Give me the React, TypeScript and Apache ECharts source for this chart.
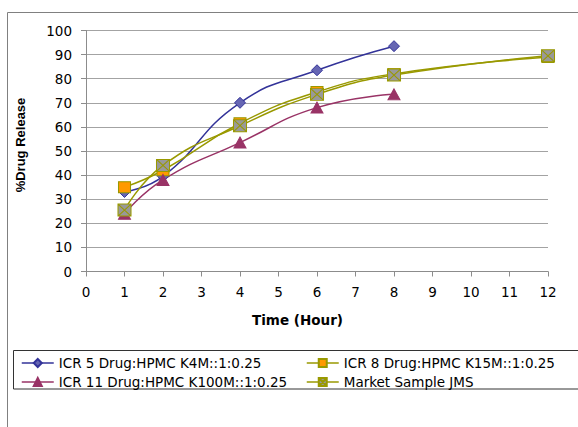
import React, { useEffect, useRef } from "react";
import * as echarts from "echarts";

// Time points (hours)
const hoursShort = [1, 2, 4, 6, 8];
const hoursLong = [1, 2, 4, 6, 8, 12];

// Series names
const seriesNames = [
  "ICR 5 Drug:HPMC K4M::1:0.25",
  "ICR 8 Drug:HPMC K15M::1:0.25",
  "ICR 11 Drug:HPMC K100M::1:0.25",
  "Market Sample JMS",
];

// % drug release values
const icr5 = [33, 39.5, 70, 83.5, 93.5];
const icr8 = [35, 42, 61.5, 74.5, 82, 89];
const icr11 = [24, 38, 53.5, 68, 73.5];
const market = [25.5, 44, 60.5, 73.5, 81.5, 89.5];

const xTitle = "Time (Hour)";
const yTitle = "%Drug Release";

const FONT = "DejaVu Sans";

const pairs = (xs: number[], ys: number[]) => xs.map((x, i) => [x, ys[i]]);

export default function App() {
  const ref = useRef<HTMLDivElement>(null);

  useEffect(() => {
    if (!ref.current) return;
    const chart = echarts.init(ref.current, undefined, { renderer: "svg" });
    const legendCommon = {
      orient: "vertical" as const,
      top: 356,
      itemWidth: 32,
      itemHeight: 10,
      itemGap: 5,
      padding: 0,
      symbolSize: 9,
      selectedMode: false,
      lineStyle: { width: 1.5 },
      textStyle: { fontFamily: FONT, fontSize: 13.5, color: "#000", lineHeight: 14 },
    };
    chart.setOption({
      animation: false,
      backgroundColor: "#fff",
      grid: { left: 86, right: 30, top: 30.5, bottom: 155.5, containLabel: false },
      xAxis: {
        type: "value",
        min: 0,
        max: 12,
        interval: 1,
        axisLine: { show: true, lineStyle: { color: "#8c8c8c", width: 1 } },
        axisTick: { show: true, inside: false, length: 5, lineStyle: { color: "#8c8c8c" } },
        axisLabel: { fontFamily: FONT, fontSize: 13.5, color: "#000", margin: 13 },
        splitLine: { show: false },
      },
      yAxis: {
        type: "value",
        min: 0,
        max: 100,
        interval: 10,
        axisLine: { show: true, lineStyle: { color: "#8c8c8c", width: 1 } },
        axisTick: { show: true, inside: false, length: 5, lineStyle: { color: "#8c8c8c" } },
        axisLabel: { fontFamily: FONT, fontSize: 13.5, color: "#000", margin: 14 },
        splitLine: { show: true, lineStyle: { color: "#a3a3a3", width: 1 } },
      },
      legend: [
        { ...legendCommon, left: 21, data: [seriesNames[0], seriesNames[2]] },
        { ...legendCommon, left: 306, data: [seriesNames[1], seriesNames[3]] },
      ],
      graphic: [
        {
          type: "rect",
          z: -1,
          shape: { x: 7.5, y: 12.5, width: 700, height: 600 },
          style: { fill: "none", stroke: "#808080", lineWidth: 1 },
        },
        {
          type: "rect",
          z: -1,
          shape: { x: 13.5, y: 350.5, width: 700, height: 38.5 },
          style: { fill: "none", stroke: "#333", lineWidth: 1 },
        },
        {
          type: "text",
          x: 20,
          y: 145,
          rotation: Math.PI / 2,
          style: {
            text: yTitle,
            font: "bold 13px 'Liberation Sans'",
            fill: "#000",
            align: "center",
            verticalAlign: "middle",
          },
        },
        {
          type: "text",
          x: 297.5,
          y: 319.5,
          style: {
            text: xTitle,
            font: `bold 13.5px '${FONT}'`,
            fill: "#000",
            align: "center",
            verticalAlign: "middle",
          },
        },
      ],
      series: [
        {
          name: seriesNames[0],
          type: "line",
          smooth: 0.5,
          data: pairs(hoursShort, icr5),
          symbol: "diamond",
          symbolSize: [11, 11],
          lineStyle: { color: "#333399", width: 1.5 },
          itemStyle: { color: "#6666b3", borderColor: "#333399", borderWidth: 1 },
        },
        {
          name: seriesNames[1],
          type: "line",
          smooth: 0.5,
          data: pairs(hoursLong, icr8),
          symbol: "rect",
          symbolSize: [12, 11],
          lineStyle: { color: "#999900", width: 1.5 },
          itemStyle: { color: "#ff9900", borderColor: "#999900", borderWidth: 1 },
        },
        {
          name: seriesNames[2],
          type: "line",
          smooth: 0.5,
          data: pairs(hoursShort, icr11),
          symbol: "triangle",
          symbolSize: [12, 11],
          lineStyle: { color: "#993366", width: 1.5 },
          itemStyle: { color: "#993366", borderColor: "#993366", borderWidth: 1 },
        },
        {
          name: seriesNames[3],
          type: "line",
          smooth: 0.5,
          data: pairs(hoursLong, market),
          symbol: "path://M0,0H10V10H0ZM0,0L10,10M10,0L0,10",
          symbolSize: [13, 12],
          lineStyle: { color: "#999900", width: 1.5 },
          itemStyle: { color: "#999999", borderColor: "#999900", borderWidth: 1 },
        },
      ],
    });
    return () => chart.dispose();
  }, []);

  return (
    <div
      ref={ref}
      style={{ position: "fixed", left: 0, top: 0, width: 578, height: 427 }}
    />
  );
}
